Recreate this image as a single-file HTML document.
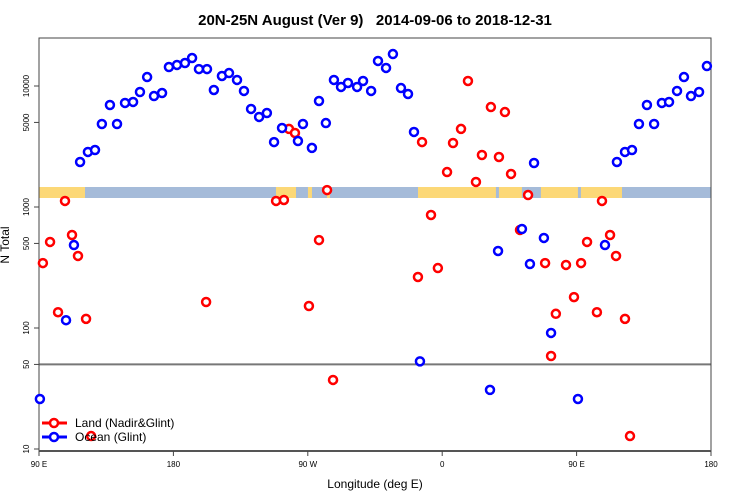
<!DOCTYPE html>
<html><head><meta charset="utf-8"><style>
body{margin:0;background:#fff;}
svg{display:block;font-family:"Liberation Sans",sans-serif;}
</style></head><body>
<svg id="chart" width="750" height="500" viewBox="0 0 750 500">
<text x="375" y="25" text-anchor="middle" font-size="15" font-weight="bold" xml:space="preserve" style="white-space:pre">20N-25N August (Ver 9)   2014-09-06 to 2018-12-31</text>
<text x="0" y="0" transform="translate(9,245) rotate(-90)" text-anchor="middle" font-size="12">N Total</text>
<text x="375" y="488" text-anchor="middle" font-size="12">Longitude (deg E)</text>
<g id="map"></g>
<g id="axes"></g>
<g id="marks"></g>
<g>
<g>
<line x1="42" y1="423" x2="67" y2="423" stroke="#f00" stroke-width="3"/>
<circle cx="54" cy="423" r="4" fill="#fff" stroke="#f00" stroke-width="2.5"/>
<text x="75" y="427" font-size="12">Land (Nadir&amp;Glint)</text></g>
<g>
<line x1="42" y1="437" x2="67" y2="437" stroke="#00f" stroke-width="3"/>
<circle cx="54" cy="437" r="4" fill="#fff" stroke="#00f" stroke-width="2.5"/>
<text x="75" y="441" font-size="12">Ocean (Glint)</text></g>
</g>
</svg>
<script>
// longitudes are unwrapped degrees east (90 .. 540), axis spans 90E -> 180 -> 0 -> 90E -> 180
const xTickLabels = ["90 E","180","90 W","0","90 E","180"];
const xTickLons = [90,180,270,360,450,540];
const yTickValues = [10,50,100,500,1000,5000,10000];
const oceanLon = [117.5,122.75,127.5,132.1,137.5,142.25,147.6,153.0,157.6,162.4,167.0,172.4,177.0,182.4,187.75,192.5,197.1,202.5,207.1,212.5,217.25,222.6,227.25,232.0,237.4,242.6,247.4,252.75,263.4,266.75,272.75,277.5,282.1,287.5,292.25,296.9,303.0,307.0,312.4,317.0,322.4,327.0,332.4,337.1,341.1,421.5,477.0,482.4,487.1,491.75,497.1,501.9,507.1,511.9,517.25,521.9,526.6,532.0,537.25,113.4,397.4,413.4,428.1,418.75,469.0,108.1,432.9,345.1,392.0,90.6,450.9];
const oceanN = [2355,2851,2958,4852,6966,4852,7244,7380,8920,11860,8260,8750,14350,14920,15490,17030,13800,13800,9270,12100,12800,11220,9100,6460,5550,5980,3440,4500,3510,4852,3080,7520,4940,11220,9820,10590,9820,11000,9100,16110,14100,18370,9620,8590,4170,2310,2355,2851,2958,4852,6966,4852,7244,7380,9100,11860,8260,8920,14620,485,433,658,555,338,485,116,91,53,30.8,25.9,25.9];
const landLon = [257.4,261.4,282.9,107.4,248.75,254.0,97.4,112.1,116.1,277.5,92.6,377.25,392.6,402.0,372.6,346.5,367.25,386.6,398.0,363.25,406.1,382.6,417.5,467.0,352.5,412.1,457.0,472.4,476.4,102.75,121.5,201.9,270.75,286.9,343.75,357.1,428.9,442.9,453.0,448.25,436.1,463.6,482.4,432.9,124.9,485.75];
const landN = [4420,4090,1380,1122,1122,1143,514,587,394,533,344,11000,6700,6090,4420,3440,3380,2690,2590,1945,1875,1610,1256,1122,859,646,514,587,394,135,119,164,152,37.2,264,313,344,332,344,180,131,135,119,58.7,12.8,12.8];
const landSegLon = [[90,120.8],[248.7,262.1],[270.1,272.8],[282.8,284.8],[343.8,396.0],[398.0,413.4],[426.1,450.9],[452.9,480.4]];

const NS="http://www.w3.org/2000/svg";
const L=39,R=711,T=38,B=451;
function xs(lon){return L+(lon-90)*(R-L)/450;}
function ys(v){return 449-121*(Math.log10(v)-1);}
function mk(tag,attrs,parent){const e=document.createElementNS(NS,tag);for(const k in attrs)e.setAttribute(k,attrs[k]);parent.appendChild(e);return e;}
const map=document.getElementById('map'),axes=document.getElementById('axes'),marks=document.getElementById('marks');
const band=mk('rect',{x:L,y:187,width:R-L,height:11,fill:'#a5bbd9'},map);


landSegLon.forEach(s=>{
  const r=mk('rect',{x:xs(s[0]),y:187,width:Math.max(1,xs(s[1])-xs(s[0])),height:11,fill:'#fcd877'},map);
  
  
});
const hl=mk('line',{x1:L,x2:R,y1:ys(50),y2:ys(50),stroke:'#777','stroke-width':2},axes);


const box=mk('rect',{x:L,y:T,width:R-L,height:B-T,fill:'none',stroke:'#444','stroke-width':1},axes);


const bl=mk('line',{x1:L,x2:R,y1:B,y2:B,stroke:'#555','stroke-width':2},axes);


xTickLons.forEach((lon,i)=>{
  const x=xs(lon);
  mk('line',{x1:x,x2:x,y1:B,y2:B+5,stroke:'#444'},axes);
  const t=mk('text',{x:x,y:B+16,'text-anchor':'middle','font-size':8},axes);
  t.textContent=xTickLabels[i];
  
  
});
yTickValues.forEach(v=>{
  const y=ys(v);
  mk('line',{x1:L-5,x2:L,y1:y,y2:y,stroke:'#444'},axes);
  const t=mk('text',{x:0,y:0,transform:`translate(${L-10},${y}) rotate(-90)`,'text-anchor':'middle','font-size':8},axes);
  t.textContent=v;
  
  
});
function pts(lons,ns,color,name){
  lons.forEach((lon,i)=>{
    const c=mk('circle',{cx:xs(lon),cy:ys(ns[i]),r:4,fill:'#fff',stroke:color,'stroke-width':2.5},marks);
    
    
  });
}
pts(landLon,landN,'#f00','land-point');
pts(oceanLon,oceanN,'#00f','ocean-point');
</script>
</body></html>
